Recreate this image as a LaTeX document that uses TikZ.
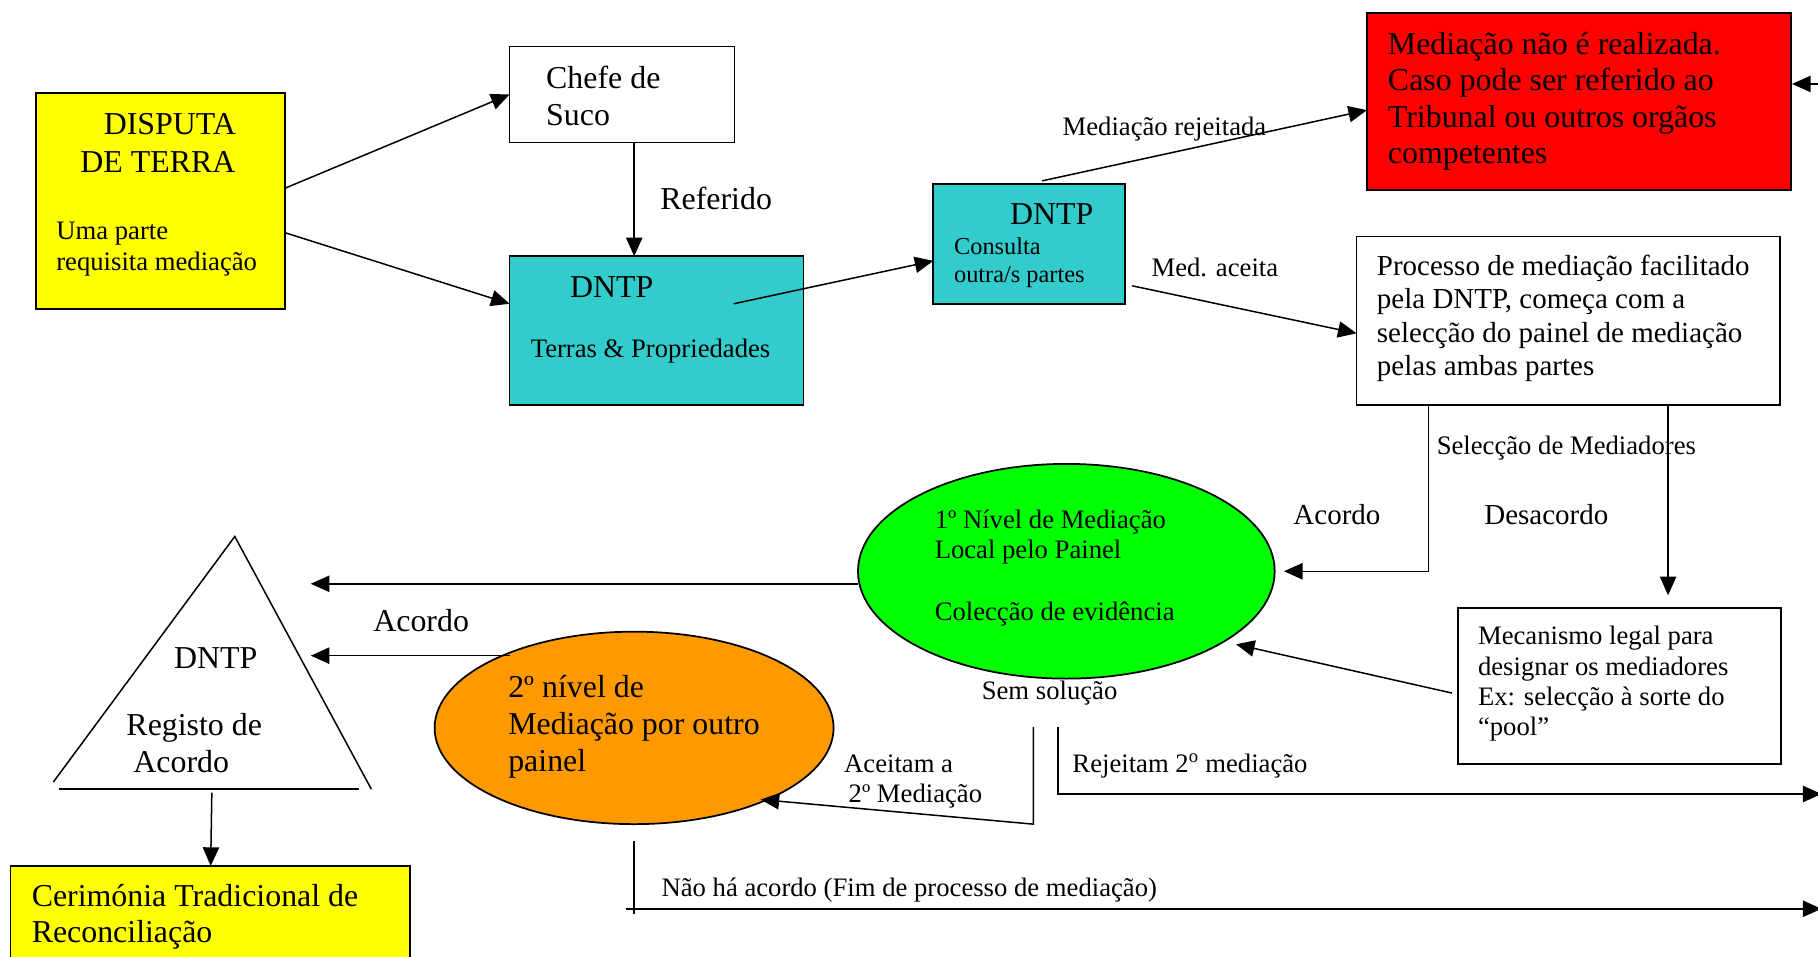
\documentclass[tikz,border=0pt]{standalone}
\usepackage{fontspec}
\setmainfont{Liberation Serif}
\usetikzlibrary{arrows.meta,calc,shapes.geometric}
\definecolor{cyanbox}{HTML}{33CCCC}
\definecolor{yellowbox}{HTML}{FFFF00}
\definecolor{redbox}{HTML}{FF0000}
\definecolor{greenell}{HTML}{00FF00}
\definecolor{orangeell}{HTML}{FF9900}
\begin{document}
\begin{tikzpicture}[x=1pt,y=-1pt,
  box/.style={draw, line width=1.5pt, anchor=north west, inner sep=0pt, outer sep=0pt},
  ell/.style={draw, ellipse, line width=1.5pt, inner sep=0pt, outer sep=0pt},
  big/.style={anchor=base west, inner sep=0pt, yshift=-2pt, font=\fontsize{27.5}{33}\selectfont},
  mid/.style={anchor=base west, inner sep=0pt, yshift=-1.5pt, font=\fontsize{25}{30}\selectfont},
  small/.style={anchor=base west, inner sep=0pt, yshift=-1.5pt, font=\fontsize{23}{27}\selectfont},
  tiny/.style={anchor=base west, inner sep=0pt, yshift=-1.5pt, font=\fontsize{21}{25}\selectfont},
  conn/.style={line width=1.3pt, -{Triangle[length=16pt,width=14pt]}},
  plainline/.style={line width=1.3pt}
]
\useasboundingbox (0,0) rectangle (1568,825);

% ---------- boxes ----------
\node[box, fill=yellowbox, minimum width=215pt, minimum height=186.5pt] (dispute) at (31,80) {};
\node[box, fill=white, minimum width=194pt, minimum height=83pt] (chefe) at (439.5,40) {};
\node[box, fill=cyanbox, minimum width=253.5pt, minimum height=128pt] (dntp1) at (439.5,221) {};
\node[box, fill=cyanbox, minimum width=165.5pt, minimum height=104pt] (dntp2) at (805,158.5) {};
\node[box, fill=redbox, minimum width=366pt, minimum height=153pt] (red) at (1179,11) {};
\node[box, fill=white, minimum width=365.5pt, minimum height=145pt] (processo) at (1170,204) {};
\node[box, fill=white, minimum width=278.5pt, minimum height=134.7pt] (mech) at (1257.6,524.4) {};
\node[box, fill=yellowbox, minimum width=344.5pt, minimum height=100pt] (cerim) at (9,746.8) {};

% ---------- ellipses ----------
\node[ell, fill=greenell, minimum width=359.4pt, minimum height=185.2pt] (green) at (919.7,492.7) {};
\node[ell, fill=orangeell, minimum width=344.1pt, minimum height=166pt] (orange) at (546.9,627.8) {};

% ---------- triangle ----------
\draw[plainline] (46,674.5) -- (202.5,462.7) -- (320.3,680.7);
\draw[plainline] (51,680.4) -- (309.5,680.4);

% ---------- coordinates ----------
\coordinate (refx) at (547,0);
\coordinate (selL) at (1232,0);
\coordinate (selR) at (1438.7,0);
\coordinate (triA) at (268,503.5);
\coordinate (triB) at (268,565.5);
\coordinate (triBot) at (182.7,683.6);
\coordinate (cerx) at (181.7,0);
\coordinate (ssL) at (891.2,627.2);
\coordinate (ssLcorner) at (891.2,710.8);
\coordinate (ssR) at (912.6,627.2);
\coordinate (rejEnd) at (1571,684.8);
\coordinate (naoTop) at (546.6,725.6);
\coordinate (naoBot) at (546.6,788.2);
\coordinate (naoStart) at (539.7,783.8);
\coordinate (naoEnd) at (1571,783.8);
\coordinate (redSrc) at (1580,72.4);
\coordinate (redTip) at (1545.6,72.4);

% ---------- connectors ----------
\draw[conn] ($(dispute.east)+(0,-11)$) -- (chefe.west);
\draw[conn] ($(dispute.east)+(0,27.5)$) -- ($(dntp1.west)+(0,-23)$);
\draw[conn] (chefe.south -| refx) -- (dntp1.north -| refx);
\draw[conn] ($(dntp1.center)+(66.5,-23)$) -- ($(dntp2.west)+(0,14.5)$);
\draw[conn] ($(dntp2.north)+(11,-2.5)$) -- ($(red.west)+(0,7.5)$);
\draw[conn] ($(dntp2.east)+(6,36)$) -- ($(processo.west)+(0,11)$);
\draw[conn] (processo.south -| selL) |- ($(green.east)+(8,0)$);
\draw[conn] (processo.south -| selR) -- ($(mech.north -| selR)+(0,-11)$);
\draw[conn] ($(mech.west)+(-5.3,6)$) -- ($(green.center)+(146.3,63)$);
\draw[conn] ($(green.west)+(0,10.8)$) -- (triA);
\draw[conn] ($(orange.center)+(-107.2,-62.3)$) -- (triB);
\draw[conn] (triBot) -- (cerim.north -| cerx);
\draw[conn] (ssL) -- (ssLcorner) -- ($(orange.center)+(109.1,61.8)$);
\draw[conn] (ssR) |- (rejEnd);
\draw[plainline] (naoTop) -- (naoBot);
\draw[conn] (naoStart) -- (naoEnd);
\draw[conn] (redSrc) -- (redTip);

% ---------- texts ----------
\node[big] (t1) at (89.3,114.1) {DISPUTA};
\node[big] (t2) at (69.1,146.6) {DE TERRA};
\node[small] (t3) at (48.4,205) {Uma parte};
\node[small] (t4) at (48.4,231.4) {requisita mediação};
\node[big] (t5) at (470.9,74.2) {Chefe de};
\node[big] (t6) at (470.9,106.4) {Suco};
\node[big] (t7) at (569.4,178.3) {Referido};
\node[big] (t8) at (491.5,254.4) {DNTP};
\node[small] (t9) at (457.6,307) {Terras \& Propriedades};
\node[big] (t10) at (870.9,192) {DNTP};
\node[tiny] (t11) at (822.7,217.6) {Consulta};
\node[tiny] (t12) at (822.7,242.4) {outra/s partes};
\node[small] (t13) at (916.3,115.6) {Mediação rejeitada};
\node[small] (t14) at (993,237.2) {Med. aceita};
\node[big] (t15) at (1196.9,44.6) {Mediação não é realizada.};
\node[big] (t16) at (1196.9,76.2) {Caso pode ser referido ao};
\node[big] (t17) at (1196.9,107.8) {Tribunal ou outros orgãos};
\node[big] (t18) at (1196.9,139.4) {competentes};
\node[mid] (t19) at (1187.4,235.7) {Processo de mediação facilitado};
\node[mid] (t20) at (1187.4,264.5) {pela DNTP, começa com a};
\node[mid] (t21) at (1187.4,293.8) {selecção do painel de mediação};
\node[mid] (t22) at (1187.4,322.6) {pelas ambas partes};
\node[small] (t23) at (1239,390.9) {Selecção de Mediadores};
\node[mid] (t24) at (1115.4,450.8) {Acordo};
\node[mid] (t25) at (1280,450.8) {Desacordo};
\node[small] (t26) at (806,454.4) {1º Nível de Mediação};
\node[small] (t27) at (806,480.4) {Local pelo Painel};
\node[small] (t28) at (806,533.6) {Colecção de evidência};
\node[small] (t29) at (1274.6,554.3) {Mecanismo legal para};
\node[small] (t30) at (1274.6,580.8) {designar os mediadores};
\node[small] (t31) at (1274.6,606.8) {Ex: selecção à sorte do};
\node[small] (t32) at (1274.6,632.5) {“pool”};
\node[small] (t33) at (846.6,601.5) {Sem solução};
\node[small] (t34) at (727.9,665) {Aceitam a};
\node[small] (t35) at (731.8,690.7) {2º Mediação};
\node[small] (t36) at (924.8,665) {Rejeitam 2\textsuperscript{o} mediação};
\node[small] (t37) at (570.4,771.4) {Não há acordo (Fim de processo de mediação)};
\node[big] (t38) at (321.8,542.4) {Acordo};
\node[big] (t39) at (150,574.4) {DNTP};
\node[big] (t40) at (108.9,632.5) {Registo de};
\node[big] (t41) at (114.9,664.1) {Acordo};
\node[big] (t42) at (438.2,600) {2º nível de};
\node[big] (t43) at (438.2,631.6) {Mediação por outro};
\node[big] (t44) at (438.2,663.5) {painel};
\node[big] (t45) at (27.2,780.2) {Cerimónia Tradicional de};
\node[big] (t46) at (27.2,811.2) {Reconciliação};
\end{tikzpicture}
\end{document}
